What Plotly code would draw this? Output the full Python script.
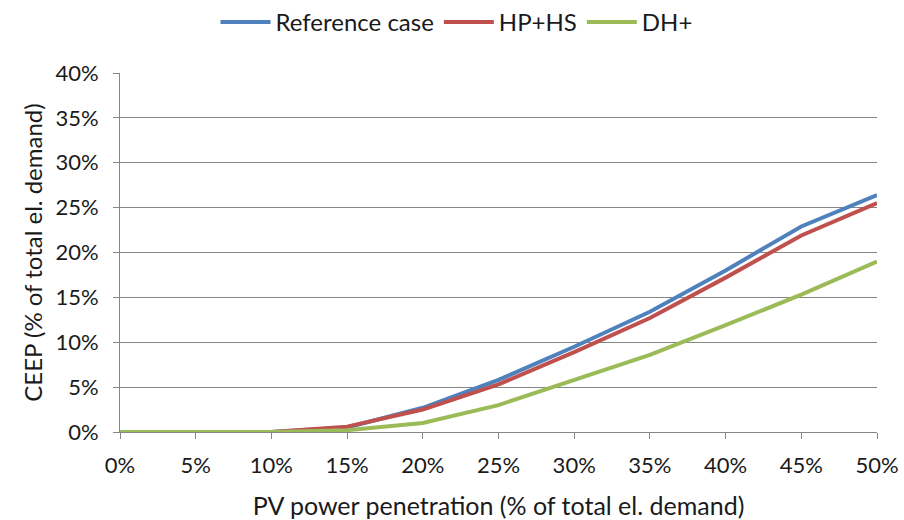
import plotly.graph_objects as go

x_vals = [0, 5, 10, 15, 20, 25, 30, 35, 40, 45, 50]
x_labels = ["0%", "5%", "10%", "15%", "20%", "25%", "30%", "35%", "40%", "45%", "50%"]
reference_case = [0, 0, 0, 0.5, 2.7, 5.8, 9.5, 13.4, 18.0, 22.9, 26.4]
hp_hs = [0, 0, 0, 0.6, 2.5, 5.3, 8.9, 12.7, 17.2, 21.9, 25.5]
dh_plus = [0, 0, 0, 0.2, 1.0, 3.0, 5.8, 8.6, 11.9, 15.3, 19.0]
y_ticks = [0, 5, 10, 15, 20, 25, 30, 35, 40]
y_labels = ["0%", "5%", "10%", "15%", "20%", "25%", "30%", "35%", "40%"]

font_family = "Lato, 'Open Sans', sans-serif"
axis_color = "#868686"

fig = go.Figure()
for name, vals, col in [("Reference case", reference_case, "#4F81BD"),
                        ("HP+HS", hp_hs, "#C0504D"),
                        ("DH+", dh_plus, "#9BBB59")]:
    fig.add_trace(go.Scatter(x=x_vals, y=vals, name=name, mode="lines",
                             line=dict(color=col, width=4)))

fig.update_layout(
    width=904, height=520,
    margin=dict(l=120, r=27, t=73, b=88),
    paper_bgcolor="white", plot_bgcolor="white",
    font=dict(family=font_family, size=23, color="#1a1a1a"),
    legend=dict(orientation="h", xref="container", yref="container",
                x=0.505, xanchor="center", y=1.0, yanchor="top",
                font=dict(size=24), traceorder="normal", itemwidth=50),
    showlegend=True,
)
fig.update_xaxes(range=[0, 50], tickvals=x_vals, ticktext=x_labels,
                 showgrid=False, showline=True, linecolor=axis_color, linewidth=1,
                 ticks="outside", ticklen=6, tickcolor=axis_color,
                 tickfont=dict(size=22), ticklabelstandoff=8, automargin=False,
                 title=dict(text="PV power penetration (% of total el. demand)",
                            font=dict(size=25), standoff=20),
                 zeroline=False)
fig.update_yaxes(range=[0, 40], tickvals=y_ticks, ticktext=y_labels,
                 showgrid=True, gridcolor=axis_color, gridwidth=1,
                 showline=True, linecolor=axis_color, linewidth=1,
                 ticks="outside", ticklen=6, tickcolor=axis_color,
                 tickfont=dict(size=22), ticklabelstandoff=10, automargin=False,
                 title=dict(text="CEEP (% of total el. demand)",
                            font=dict(size=24), standoff=6),
                 zeroline=False)

fig.write_html("out.html", config={"displayModeBar": False},
               post_script="document.body.style.margin='0';")
